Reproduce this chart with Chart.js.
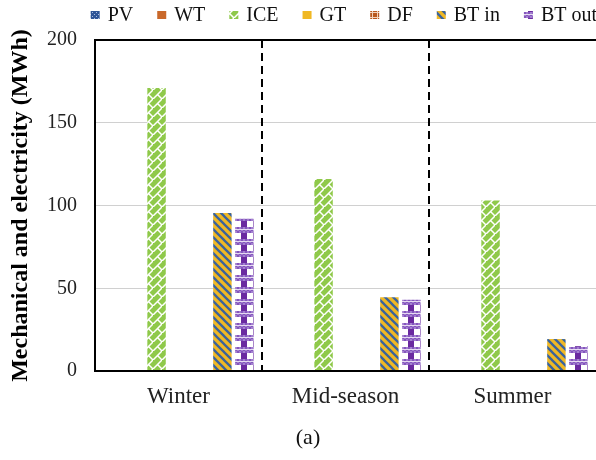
<!DOCTYPE html>
<html>
<head>
<meta charset="utf-8">
<script src="https://cdn.jsdelivr.net/npm/chart.js@4.4.0/dist/chart.umd.min.js"></script>
<style>
  html, body { margin: 0; padding: 0; background: #fff; }
  #wrap { width: 596px; height: 460px; }
</style>
</head>
<body>
<div id="wrap"><canvas id="c" width="596" height="460"></canvas></div>
<script>
// Seasonal mechanical and electrical energy (MWh)
const seasons = ['Winter', 'Mid-season', 'Summer'];
const seriesNames = ['PV', 'WT', 'ICE', 'GT', 'DF', 'BT in', 'BT out'];
const pv = [0, 0, 0];
const wt = [0, 0, 0];
const ice = [171, 116, 103];
const gt = [0, 0, 0];
const df = [0, 0, 0];
const btIn = [95.5, 44.5, 19.3];
const btOut = [92, 43, 15];
const yTicks = [0, 50, 100, 150, 200];

const FONT = "'Liberation Serif', 'Times New Roman', serif";
const CAT_PCT = 0.92;
const BAR_PCT = 0.84;

const canvas = document.getElementById('c');
const ctx = canvas.getContext('2d');

function makeTile(w, h, draw) {
  const c = document.createElement('canvas');
  c.width = w; c.height = h;
  draw(c.getContext('2d'), w, h);
  return c;
}

const GREEN = '#8fc94a', GOLD = '#f0b824', BLUE = '#3a639c', PURPLE = '#6a2aa0',
      ORANGE = '#c9682a', BROWN = '#b9581e', PVBLUE = '#2f5597';

// diagonal brick: white lattice over green
const iceTile = makeTile(9, 9, (g, w, h) => {
  g.fillStyle = GREEN; g.fillRect(0, 0, w, h);
  g.strokeStyle = '#ffffff'; g.lineWidth = 1.5;
  g.beginPath();
  g.moveTo(-1, h + 1); g.lineTo(w + 1, -1);
  g.moveTo(w / 2, h / 2); g.lineTo(w + 1, h + 1);
  g.stroke();
});
// wide downward diagonal: blue over gold
const btInTile = makeTile(8, 8, (g, w, h) => {
  g.fillStyle = GOLD; g.fillRect(0, 0, w, h);
  g.strokeStyle = BLUE; g.lineWidth = 2.3;
  g.beginPath();
  for (let k = -1; k <= 1; k++) { g.moveTo(k * w - 2, -2); g.lineTo(k * w + w + 2, h + 2); }
  g.stroke();
});
// plaid: purple checker band + solid block over white
const btOutTile = makeTile(12, 12, (g, w, h) => {
  g.fillStyle = '#ffffff'; g.fillRect(0, 0, w, h);
  g.fillStyle = '#a37fcf';
  g.fillRect(0, 0, w, 6);
  g.fillStyle = '#8456bd';
  for (let r = 0; r < 3; r++) for (let c = 0; c < 6; c++)
    if ((r + c) % 2 === 0) g.fillRect(c * 2, r * 2, 2, 2);
  g.fillStyle = '#e6dcf2';
  g.fillRect(0, 2, w, 1);
  g.fillStyle = PURPLE; g.fillRect(0, 6, 6, 6);
});
const pvTile = makeTile(4, 4, (g) => {
  g.fillStyle = PVBLUE; g.fillRect(0, 0, 4, 4);
  g.fillStyle = '#a9bde0'; g.fillRect(0, 0, 1, 1); g.fillRect(2, 2, 1, 1);
});
const dfTile = makeTile(5, 5, (g) => {
  g.fillStyle = BROWN; g.fillRect(0, 0, 5, 5);
  g.fillStyle = '#f1d2bd'; g.fillRect(2, 0, 1, 5); g.fillRect(0, 2, 5, 1);
});

const pat = (tile) => ctx.createPattern(tile, 'repeat');

// plaid fill aligned so its solid column sits in the middle of each bar
function btOutFill(context) {
  const p = pat(btOutTile);
  const chart = context.chart;
  const xs = chart.scales && chart.scales.x;
  if (!xs || !xs.width || context.dataIndex === undefined || !chart.chartArea) return p;
  const slot = (xs.width / seasons.length) * CAT_PCT / seriesNames.length;
  const cx = xs.getPixelForValue(context.dataIndex) +
             (context.datasetIndex - (seriesNames.length - 1) / 2) * slot;
  p.setTransform(new DOMMatrix().translate(Math.round(cx) - 3, Math.round(chart.chartArea.bottom)));
  return p;
}

const legendSwatches = [pat(pvTile), ORANGE, pat(iceTile), GOLD, pat(dfTile), pat(btInTile), pat(btOutTile)];

const datasets = [
  { label: seriesNames[0], data: pv, backgroundColor: pat(pvTile) },
  { label: seriesNames[1], data: wt, backgroundColor: ORANGE },
  { label: seriesNames[2], data: ice, backgroundColor: pat(iceTile) },
  { label: seriesNames[3], data: gt, backgroundColor: GOLD },
  { label: seriesNames[4], data: df, backgroundColor: pat(dfTile) },
  { label: seriesNames[5], data: btIn, backgroundColor: pat(btInTile) },
  { label: seriesNames[6], data: btOut, backgroundColor: btOutFill }
].map(d => Object.assign(d, { borderWidth: 0, categoryPercentage: CAT_PCT, barPercentage: BAR_PCT }));

// frame, season separators, legend row and panel tag
const decorations = {
  id: 'decorations',
  afterDatasetsDraw(chart) {
    const { ctx: g, chartArea: a, scales: { x } } = chart;
    g.save();
    g.strokeStyle = '#000'; g.lineWidth = 2; g.setLineDash([8, 5]);
    for (let i = 0; i < seasons.length - 1; i++) {
      const px = Math.round((x.getPixelForValue(i) + x.getPixelForValue(i + 1)) / 2);
      g.beginPath(); g.moveTo(px, a.top); g.lineTo(px, a.bottom); g.stroke();
    }
    g.setLineDash([]);
    g.lineWidth = 2;
    g.beginPath();
    g.moveTo(a.right + 2, a.top); g.lineTo(a.left, a.top); g.lineTo(a.left, a.bottom); g.lineTo(a.right + 2, a.bottom);
    g.stroke();
    g.restore();
  },
  afterDraw(chart) {
    const g = chart.ctx;
    g.save();
    g.font = '20px ' + FONT;
    g.textBaseline = 'middle';
    const box = 9, gapText = 8, gapItem = 24;
    const widths = seriesNames.map(n => g.measureText(n).width);
    const total = widths.reduce((s, w) => s + box + gapText + w, 0) + gapItem * (seriesNames.length - 1);
    let xPos = chart.width + 1 - total;
    const yMid = 15;
    seriesNames.forEach((n, i) => {
      g.fillStyle = legendSwatches[i];
      g.fillRect(xPos, yMid - 4, box, 8);
      g.fillStyle = '#111';
      g.fillText(n, xPos + box + gapText, yMid + 1);
      xPos += box + gapText + widths[i] + gapItem;
    });
    g.font = '22px ' + FONT;
    g.textAlign = 'center';
    g.fillStyle = '#111';
    g.fillText('(a)', 308, 438);
    g.restore();
  }
};

new Chart(canvas, {
  type: 'bar',
  data: { labels: seasons, datasets },
  options: {
    responsive: false,
    animation: false,
    events: [],
    layout: { padding: { top: 40, left: 0, right: 0, bottom: 49 } },
    plugins: { legend: { display: false }, tooltip: { enabled: false } },
    scales: {
      x: {
        grid: { display: false, drawTicks: false },
        border: { display: false },
        ticks: { font: { family: FONT, size: 23 }, color: '#222', padding: 12 },
        afterFit(s) { s.height = 40; }
      },
      y: {
        min: 0, max: 200,
        afterBuildTicks(s) { s.ticks = yTicks.map(v => ({ value: v })); },
        grid: { color: '#d0d0d0', lineWidth: 1, drawTicks: false },
        border: { display: false },
        ticks: { font: { family: FONT, size: 20 }, color: '#222', padding: 18 },
        title: {
          display: true,
          text: 'Mechanical and electricity (MWh)',
          font: { family: FONT, size: 24, weight: 'bold' },
          color: '#000',
          padding: { top: 6, bottom: 0 }
        },
        afterFit(s) { s.width = 95; }
      }
    }
  },
  plugins: [decorations]
});
</script>
</body>
</html>
